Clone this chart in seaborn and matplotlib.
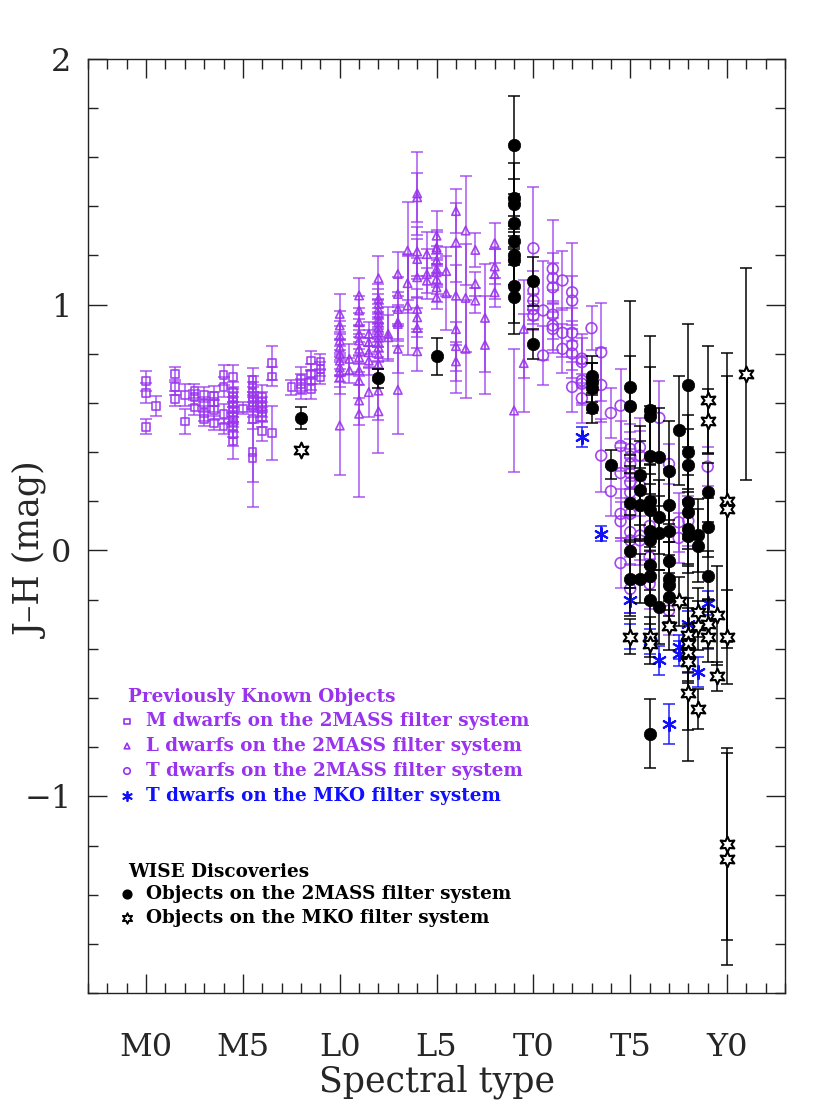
import numpy as np
import pandas as pd
import matplotlib
matplotlib.use("Agg")
import matplotlib.pyplot as plt
from matplotlib.ticker import MultipleLocator, FixedLocator
import seaborn as sns

# spectral type: M0=0, L0=10, T0=20, Y0=30
m_spt = [0, 0, 0, 0.5, 1.5, 1.5, 1.5, 2, 2, 2.5, 2.5, 2.5, 3, 3, 3, 3,
         3.5, 3.5, 3.5, 3.5, 4, 4, 4, 4,
         4.5, 4.5, 4.5, 4.5, 4.5, 4.5, 4.5, 4.5, 4.5, 4.5, 4.5, 5,
         5.5, 5.5, 5.5, 5.5, 5.5, 5.5, 5.5, 5.5, 5.5,
         6, 6, 6, 6, 6, 6, 6.5, 6.5, 6.5, 7.5, 8, 8, 8,
         8.5, 8.5, 8.5, 8.5, 9, 9, 9]
m_jh = [0.688, 0.641, 0.503, 0.587, 0.717, 0.664, 0.617, 0.633, 0.524, 0.649, 0.623, 0.581,
        0.633, 0.596, 0.558, 0.535, 0.628, 0.603, 0.572, 0.518, 0.714, 0.664, 0.556, 0.504,
        0.705, 0.644, 0.623, 0.603, 0.583, 0.562, 0.542, 0.521, 0.501, 0.474, 0.443, 0.578,
        0.694, 0.671, 0.644, 0.623, 0.603, 0.583, 0.535, 0.400, 0.375,
        0.623, 0.603, 0.583, 0.562, 0.542, 0.485, 0.762, 0.707, 0.478, 0.664, 0.698, 0.677, 0.657,
        0.772, 0.718, 0.691, 0.657, 0.769, 0.738, 0.705]
m_err = [0.04, 0.04, 0.03, 0.04, 0.03, 0.03, 0.03, 0.045, 0.05, 0.03, 0.03, 0.03,
         0.03, 0.03, 0.03, 0.03, 0.04, 0.04, 0.04, 0.03, 0.04, 0.04, 0.04, 0.03,
         0.05, 0.04, 0.04, 0.04, 0.04, 0.04, 0.04, 0.04, 0.04, 0.05, 0.07, 0.025,
         0.05, 0.04, 0.04, 0.04, 0.04, 0.04, 0.04, 0.12, 0.2,
         0.05, 0.04, 0.04, 0.04, 0.04, 0.04, 0.07, 0.04, 0.11, 0.03, 0.05, 0.04, 0.04,
         0.04, 0.04, 0.04, 0.04, 0.03, 0.03, 0.03]

l_spt = [10] * 11 + [10.5] * 2 + [11] * 11 + [11.5] * 5 + [12] * 16 + [12.5] * 2 + \
        [13] * 7 + [13.5] * 3 + [14] * 9 + [14.5] * 3 + [15] * 9 + [15.5] * 2 + \
        [16] * 6 + [16.5] * 3 + [17] * 3 + [17.5] * 2 + [18] * 4 + [19] + [19.5] * 2
l_jh = [0.962, 0.915, 0.874, 0.854, 0.827, 0.799, 0.772, 0.745, 0.725, 0.705, 0.508,
        0.779, 0.732,
        1.037, 0.976, 0.928, 0.881, 0.854, 0.820, 0.786, 0.732, 0.691, 0.610, 0.556,
        0.881, 0.847, 0.806, 0.772, 0.644,
        1.107, 1.023, 1.003, 0.982, 0.962, 0.942, 0.928, 0.908, 0.888, 0.867, 0.847, 0.827,
        0.799, 0.759, 0.650, 0.566,
        0.881, 0.867,
        1.124, 1.043, 0.982, 0.928, 0.921, 0.820, 0.653,
        1.219, 1.087, 0.996,
        1.452, 1.436, 1.216, 1.185, 1.111, 0.982, 0.948, 0.905, 0.810,
        1.205, 1.124, 1.097,
        1.280, 1.233, 1.226, 1.179, 1.145, 1.131, 1.104, 1.070, 1.030,
        1.136, 1.046,
        1.380, 1.253, 1.036, 0.900, 0.831, 0.769,
        1.301, 1.027, 0.820,
        1.222, 1.084, 1.016,
        0.946, 0.836,
        1.250, 1.155, 1.124, 1.050,
        0.569,
        0.901, 0.762]
l_err = [0.08, 0.06, 0.06, 0.06, 0.06, 0.06, 0.06, 0.06, 0.06, 0.07, 0.2,
         0.06, 0.05,
         0.07, 0.06, 0.06, 0.06, 0.06, 0.06, 0.06, 0.06, 0.07, 0.1, 0.34,
         0.05, 0.05, 0.06, 0.06, 0.1,
         0.09, 0.06, 0.06, 0.06, 0.06, 0.06, 0.06, 0.06, 0.06, 0.06, 0.06, 0.06,
         0.06, 0.07, 0.12, 0.17,
         0.11, 0.09,
         0.09, 0.07, 0.07, 0.07, 0.07, 0.1, 0.18,
         0.2, 0.12, 0.2,
         0.17, 0.1, 0.1, 0.08, 0.08, 0.08, 0.08, 0.08, 0.08,
         0.09, 0.1, 0.05,
         0.1, 0.07, 0.07, 0.06, 0.06, 0.06, 0.06, 0.06, 0.05,
         0.1, 0.15,
         0.09, 0.16, 0.2, 0.26, 0.1, 0.08,
         0.22, 0.22, 0.2,
         0.07, 0.05, 0.05,
         0.22, 0.2,
         0.08, 0.07, 0.1, 0.06,
         0.25,
         0.2, 0.2]

t_spt = [20] * 5 + [20.5] * 2 + [21] * 6 + [21.5] * 3 + [22] * 6 + [22.5] * 5 + [23] + \
        [23.5] * 3 + [24] * 2 + [24.5] * 6 + [25] * 10 + [25.5] * 5 + [26] * 3 + \
        [26.5] + [27] * 2 + [27.5] * 2 + [28] + [29]
t_jh = [1.229, 1.057, 1.016, 0.982, 0.955,
        0.976, 0.793,
        1.145, 1.108, 1.070, 0.959, 0.915, 0.901,
        1.098, 0.885, 0.820,
        1.050, 1.016, 0.885, 0.835, 0.801, 0.665,
        0.780, 0.766, 0.691, 0.678, 0.619,
        0.904,
        0.806, 0.673, 0.386,
        0.559, 0.241,
        0.589, 0.425, 0.315, 0.149, 0.119, -0.051,
        0.413, 0.382, 0.352, 0.314, 0.277, 0.236, 0.149, 0.075, 0.041, -0.156,
        0.420, 0.386, 0.264, 0.061, 0.041,
        0.100, -0.027, -0.136,
        0.539,
        0.352, -0.244,
        0.115, 0.051,
        0.120,
        0.341]
t_err = [0.25, 0.08, 0.08, 0.06, 0.06,
         0.2, 0.12,
         0.2, 0.1, 0.1, 0.1, 0.1, 0.1,
         0.12, 0.1, 0.1,
         0.2, 0.1, 0.1, 0.1, 0.1, 0.1,
         0.1, 0.1, 0.1, 0.08, 0.1,
         0.09,
         0.2, 0.15, 0.15,
         0.1, 0.1,
         0.15, 0.1, 0.1, 0.1, 0.08, 0.1,
         0.1, 0.1, 0.1, 0.1, 0.1, 0.1, 0.1, 0.1, 0.1, 0.1,
         0.12, 0.1, 0.1, 0.1, 0.1,
         0.1, 0.1, 0.1,
         0.15,
         0.08, 0.1,
         0.12, 0.1,
         0.1,
         0.08]

mko_spt = [22.5, 23.5, 25, 25, 26, 26.5, 27, 27.5, 27.5, 28, 28, 28.5, 29, 29]
mko_jh = [0.461, 0.068, -0.203, -0.350, -0.370, -0.447, -0.705, -0.393, -0.420,
          -0.298, -0.450, -0.494, -0.214, -0.350]
mko_err = [0.04, 0.03, 0.05, 0.05, 0.05, 0.06, 0.08, 0.05, 0.05, 0.05, 0.05, 0.06, 0.05, 0.05]

w2m_spt = [8, 12, 15] + [19] * 9 + [20] * 2 + [23] * 4 + [24] + [25] * 5 + [25.5] * 4 + \
          [26] * 11 + [26.5] * 4 + [27] * 7 + [27.5] + [28] * 7 + [28.5] * 2 + [29] * 3
w2m_jh = [0.539, 0.700, 0.790,
          1.650, 1.434, 1.409, 1.332, 1.260, 1.200, 1.180, 1.077, 1.032,
          1.094, 0.840,
          0.711, 0.684, 0.661, 0.580,
          0.349,
          0.664, 0.589, 0.192, -0.004, -0.115,
          0.305, 0.247, 0.187, -0.115,
          0.572, 0.546, 0.386, 0.203, 0.163, 0.081, 0.041, -0.061, -0.102, -0.203, -0.745,
          0.379, 0.136, 0.071, -0.230,
          0.325, 0.183, 0.081, -0.041, -0.115, -0.142, -0.190,
          0.488,
          0.671, 0.400, 0.346, 0.197, 0.156, 0.088, 0.057,
          0.061, 0.020,
          0.237, 0.095, -0.102]
w2m_err = [0.045, 0.04, 0.076,
           0.2, 0.14, 0.1, 0.1, 0.1, 0.12, 0.1, 0.15, 0.15,
           0.1, 0.06,
           0.08, 0.08, 0.1, 0.06,
           0.06,
           0.35, 0.2, 0.15, 0.15, 0.15,
           0.2, 0.2, 0.15, 0.1,
           0.3, 0.2, 0.2, 0.15, 0.15, 0.15, 0.15, 0.1, 0.1, 0.15, 0.14,
           0.2, 0.15, 0.15, 0.15,
           0.2, 0.15, 0.1, 0.15, 0.15, 0.1, 0.1,
           0.22,
           0.25, 0.15, 0.15, 0.15, 0.15, 0.15, 0.15,
           0.15, 0.15,
           0.12, 0.12, 0.1]

wmko_spt = [8, 25, 26, 26, 27, 27.5, 28, 28, 28, 28, 28, 28.5, 28.5, 28.5,
            29, 29, 29, 29, 29.5, 29.5, 30, 30, 30, 30, 30, 31]
wmko_jh = [0.407, -0.350, -0.352, -0.380, -0.305, -0.206, -0.345, -0.382, -0.417, -0.454, -0.580,
           -0.251, -0.305, -0.644, 0.612, 0.525, -0.298, -0.352, -0.264, -0.512,
           0.203, 0.169, -0.352, -1.192, -1.255, 0.718]
wmko_err = [0.01, 0.07, 0.08, 0.08, 0.1, 0.1, 0.15, 0.15, 0.12, 0.4, 0.15,
            0.1, 0.1, 0.08, 0.22, 0.13, 0.1, 0.1, 0.2, 0.06,
            0.6, 0.54, 0.19, 0.39, 0.43, 0.43]

tick_pos = [0, 5, 10, 15, 20, 25, 30]
tick_lab = ["M0", "M5", "L0", "L5", "T0", "T5", "Y0"]

purple = "#9933ee"
blue = "#1010ff"

sns.set_style("ticks")
plt.rcParams["font.family"] = ["DejaVu Serif"]

fig = plt.figure(figsize=(8.3, 11.06), dpi=100)
ax = fig.add_axes([0.106, 0.102, 0.840, 0.845])

groups = [
    (m_spt, m_jh, m_err, purple, "s", 30, 0.75, 1),
    (l_spt, l_jh, l_err, purple, "^", 36, 0.75, 2),
    (t_spt, t_jh, t_err, purple, "o", 60, 0.75, 3),
    (mko_spt, mko_jh, mko_err, blue, (6, 2, 0), 90, 0.85, 4),
    (w2m_spt, w2m_jh, w2m_err, "black", "o", 80, 0.9, 5),
    (wmko_spt, wmko_jh, wmko_err, "black", (6, 1, 0), 130, 0.9, 6),
]

for spt, jh, err, col, mk, size, alpha, z in groups:
    df = pd.DataFrame({"spt": spt, "jh": jh, "err": err})
    ax.errorbar(df.spt, df.jh, yerr=df.err, fmt="none", ecolor=col, elinewidth=1.2,
                capsize=4.5, capthick=1.2, alpha=alpha, zorder=z)
    if col == "black" and mk == "o":
        sns.scatterplot(data=df, x="spt", y="jh", ax=ax, color="black", marker="o",
                        s=size, edgecolor="black", linewidth=0.5, zorder=z + 0.5)
    elif mk == (6, 2, 0):
        sns.scatterplot(data=df, x="spt", y="jh", ax=ax, color=col, marker=mk,
                        s=size, linewidth=1.5, zorder=z + 0.5)
    elif mk == (6, 1, 0):
        sns.scatterplot(data=df, x="spt", y="jh", ax=ax, color=col, marker=mk,
                        s=size, facecolor="white", edgecolor=col, linewidth=1.5, zorder=z + 0.5)
    else:
        sns.scatterplot(data=df, x="spt", y="jh", ax=ax, color=col, marker=mk,
                        s=size, facecolor="none", edgecolor=col, linewidth=1.2,
                        alpha=0.9, zorder=z + 0.5)

ax.set_xlim(-3, 33)
ax.set_ylim(-1.8, 2.0)
ax.xaxis.set_major_locator(FixedLocator(tick_pos))
ax.set_xticklabels(tick_lab)
ax.xaxis.set_minor_locator(MultipleLocator(1))
ax.yaxis.set_major_locator(MultipleLocator(1))
ax.yaxis.set_minor_locator(MultipleLocator(0.2))
ax.set_yticks([-1, 0, 1, 2])
ax.set_yticklabels(["\u22121", "0", "1", "2"])
ax.tick_params(which="both", direction="in", top=True, right=True, color="#222222", width=1)
ax.tick_params(which="major", length=14)
ax.tick_params(which="minor", length=7)
ax.tick_params(axis="x", which="major", labelsize=23, pad=28)
ax.tick_params(axis="y", which="major", labelsize=23, pad=12)
for s in ax.spines.values():
    s.set_linewidth(1.0)
    s.set_color("#222222")

ax.set_xlabel("Spectral type", fontsize=25)
ax.set_ylabel("J\u2013H (mag)", fontsize=25)
ax.xaxis.set_label_coords(0.5, -0.076)
ax.yaxis.set_label_coords(-0.056, 0.474)

# legend block
tx = ax.transAxes
fs = 13.2
ax.text(0.057, 0.317, "Previously Known Objects", transform=tx, color=purple,
        fontsize=fs, fontweight="bold", va="center")
leg_rows = [
    (0.291, "s", purple, "M dwarfs on the 2MASS filter system", 14),
    (0.2645, "^", purple, "L dwarfs on the 2MASS filter system", 16),
    (0.2377, "o", purple, "T dwarfs on the 2MASS filter system", 22),
    (0.211, (6, 2, 0), blue, "T dwarfs on the MKO filter system", 45),
]
for yy, mk, col, lab, sz in leg_rows:
    if mk == (6, 2, 0):
        ax.scatter([0.056], [yy], transform=tx, marker=mk, s=sz, color=col, linewidth=1.3)
    else:
        ax.scatter([0.056], [yy], transform=tx, marker=mk, s=sz, facecolor="none",
                   edgecolor=col, linewidth=1.2)
    ax.text(0.083, yy, lab, transform=tx, color=col, fontsize=fs, fontweight="bold",
            va="center")

ax.text(0.057, 0.1296, "WISE Discoveries", transform=tx, color="black",
        fontsize=fs, fontweight="bold", va="center")
ax.scatter([0.056], [0.106], transform=tx, marker="o", s=40, color="black")
ax.text(0.083, 0.106, "Objects on the 2MASS filter system", transform=tx, color="black",
        fontsize=fs, fontweight="bold", va="center")
ax.scatter([0.056], [0.0803], transform=tx, marker=(6, 1, 0), s=60, facecolor="white",
           edgecolor="black", linewidth=1.3)
ax.text(0.083, 0.0803, "Objects on the MKO filter system", transform=tx, color="black",
        fontsize=fs, fontweight="bold", va="center")

fig.savefig("out.png", dpi=100)
